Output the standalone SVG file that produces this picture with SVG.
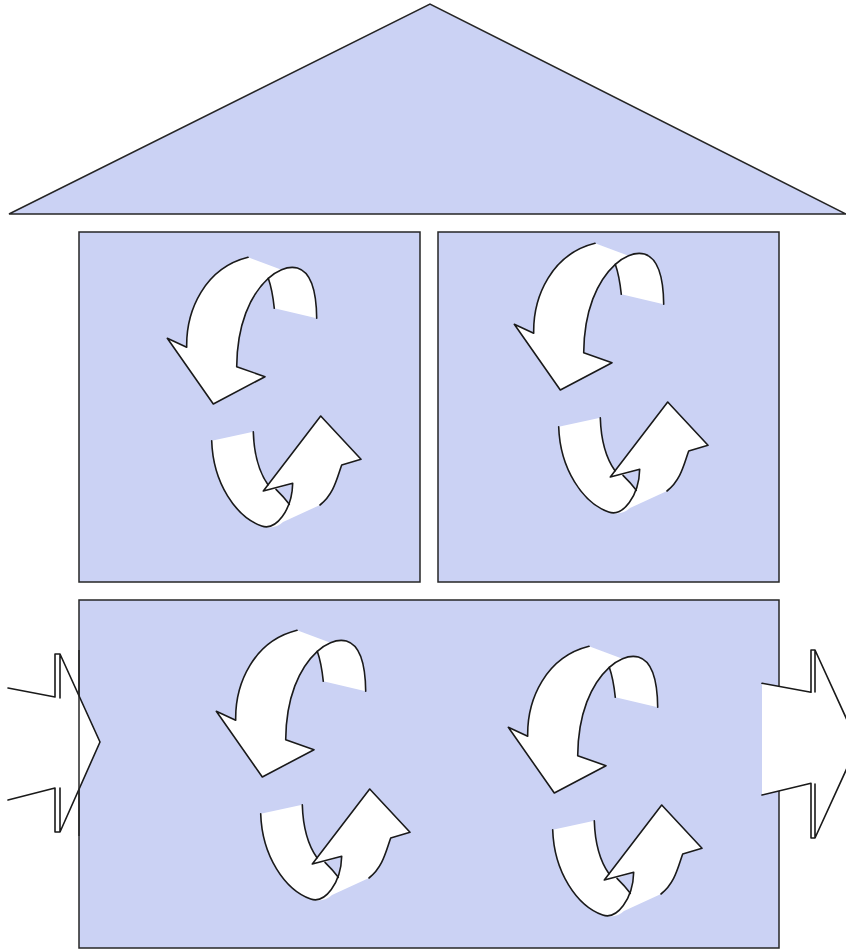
<svg xmlns="http://www.w3.org/2000/svg" width="846" height="952" viewBox="0 0 846 952">
<style>
.room{fill:#cbd2f4;stroke:#262626;stroke-width:1.5}
.w{fill:#ffffff;stroke:none}
.ln{fill:none;stroke:#1a1a1a;stroke-width:1.6;stroke-linejoin:round;stroke-linecap:round}
.hole{fill:#cbd2f4;stroke:none}
</style>
<defs>
<g id="swirl">
<path class="w" d="M167.3,338.3 L186.7,347.3 C186,310 205,268 248,257.3 L281.5,269.8 Q275,272 268.3,278.3 C250,295 237,325 236.7,366.7 L265,376.7 L213.3,404 Z"/>
<path class="w" d="M268.3,278.3 C282,266 316,250 316.7,318.3 L274.3,308.3 C273,296 271,286 268.3,278.3 Z"/>
<path class="w" d="M211.7,440.7 L253.3,431.7 C254,455 259,472 268,484.8 L320.7,416 L361,459.3 L341.7,465 C337,478 334,494 320,505 L283,522 C278,527 270,529 261.7,526 C236,517 213,483 211.7,440.7 Z"/>
<path class="hole" d="M276,489.3 L292.7,483.3 L289.3,504.3 Q284,497 276,489.3 Z"/>
<path class="ln" d="M248,257.3 C205,268 186,310 186.7,347.3 L167.3,338.3 L213.3,404 L265,376.7 L236.7,366.7 C237,325 250,295 268.3,278.3 C282,266 316,250 316.7,318.3"/>
<path class="ln" d="M268.3,278.3 C271,286 273,296 274.3,308.3"/>
<path class="ln" d="M211.7,440.7 C213,483 236,517 261.7,526 C276,531 292,510 292.7,483.3 L263.3,491 L320.7,416 L361,459.3 L341.7,465 C337,478 334,494 320,505"/>
<path class="ln" d="M253.3,431.7 C254,455 259,472 268,484.8"/>
<path class="ln" d="M276,489.3 Q284,497 289.3,504.3"/>
</g>
</defs>
<rect width="846" height="952" fill="#ffffff"/>
<g id="roof"><polygon class="room" points="9,214 430,4 846,214"/></g>
<g id="room-top-left"><rect class="room" x="79" y="232" width="341" height="350"/><use href="#swirl"/></g>
<g id="room-top-right"><rect class="room" x="438" y="232" width="341" height="350"/><use href="#swirl" transform="translate(347,-14)"/></g>
<g id="room-bottom"><rect class="room" x="79" y="600" width="700" height="348"/><use href="#swirl" transform="translate(49,373)"/><use href="#swirl" transform="translate(341,389)"/></g>
<g id="connectors">
<g id="inlet">
<polygon class="w" points="8,688 55,697 55,654 60,654 100,742 60,832 55,832 55,788 8,800"/>
<path class="ln" d="M8,688 L55,697 L55,654 L60,654 L100,742 L60,832 L55,832 L55,788 L8,800 M60,654 L60,698 M60,832 L60,788"/>
<line x1="79" y1="650" x2="79" y2="836" stroke="#262626" stroke-width="1.5"/>
</g>
<g id="outlet">
<polygon class="w" points="762,683.3 811,692.3 811,650 815,650 858,744 815,838 811,838 811,783.3 762,795"/>
<path class="ln" d="M762,683.3 L811,692.3 L811,650 L815,650 L858,744 L815,838 L811,838 L811,783.3 L762,795 M815,650 L815,692 M815,838 L815,784"/>
</g>
</g>
</svg>
